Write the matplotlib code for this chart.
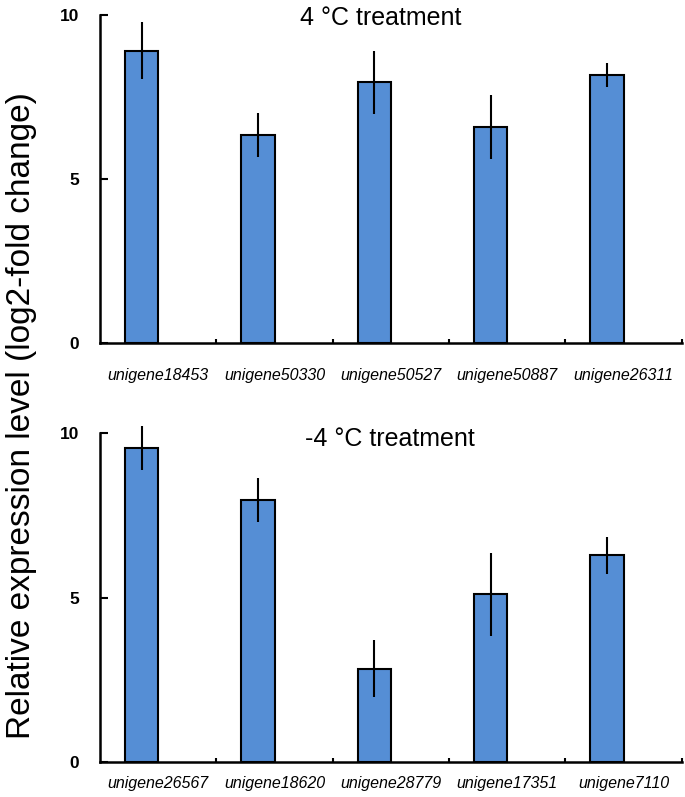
import matplotlib
matplotlib.use("Agg")
import matplotlib.pyplot as plt
import numpy as np

plt.rcParams["font.family"] = ["Liberation Sans", "DejaVu Sans"]

BAR_COLOR = "#558ed5"

# 4 °C treatment
genes_warm = ["unigene18453", "unigene50330", "unigene50527", "unigene50887", "unigene26311"]
expr_warm = [8.91, 6.35, 7.95, 6.59, 8.17]
err_warm = [0.87, 0.67, 0.96, 0.98, 0.37]

# -4 °C treatment
genes_cold = ["unigene26567", "unigene18620", "unigene28779", "unigene17351", "unigene7110"]
expr_cold = [9.55, 7.96, 2.83, 5.10, 6.28]
err_cold = [0.68, 0.67, 0.87, 1.27, 0.56]

fig = plt.figure(figsize=(6.85, 7.97), dpi=100)
ax_top = fig.add_axes([0.146, 0.570, 0.849, 0.411])
ax_bot = fig.add_axes([0.146, 0.0443, 0.849, 0.412])


def draw_panel(ax, genes, vals, errs, title, title_x, title_y, label_pad):
    idx = np.arange(len(genes))
    x = idx + 0.358
    ax.bar(x, vals, width=0.288, color=BAR_COLOR, edgecolor="black", linewidth=1.5, zorder=2)
    eb = ax.errorbar(x, vals, yerr=errs, fmt="none", ecolor="black",
                     elinewidth=1.5, capsize=0, zorder=3)
    for ln in eb.lines[2]:
        ln.set_clip_on(False)

    ax.set_xlim(0, len(genes))
    ax.set_ylim(0, 10)

    ax.set_xticks(idx + 0.5)
    ax.set_xticklabels(genes, fontstyle="italic", fontsize=11.5)
    ax.set_xticks(idx + 1, minor=True)
    ax.tick_params(axis="x", which="major", length=0, pad=label_pad)
    ax.tick_params(axis="x", which="minor", direction="in", length=3, width=1.5)

    ax.set_yticks([0, 5, 10])
    ax.tick_params(axis="y", direction="in", length=6, width=1.5, pad=15, labelsize=12.5)
    for lab in ax.get_yticklabels():
        lab.set_fontweight("bold")

    for side in ["top", "right"]:
        ax.spines[side].set_visible(False)
    for side in ["left", "bottom"]:
        ax.spines[side].set_linewidth(1.8)

    ax.text(title_x, title_y, title, ha="center", va="baseline", fontsize=18)


draw_panel(ax_top, genes_warm, expr_warm, err_warm, "4 °C treatment", 2.41, 9.69, 18)
draw_panel(ax_bot, genes_cold, expr_cold, err_cold, "-4 °C treatment", 2.49, 9.60, 10)

fig.text(0.032, 0.479, "Relative expression level (log2-fold change)",
         rotation=90, ha="center", va="center", fontsize=24)

fig.savefig("out.png", dpi=100)
